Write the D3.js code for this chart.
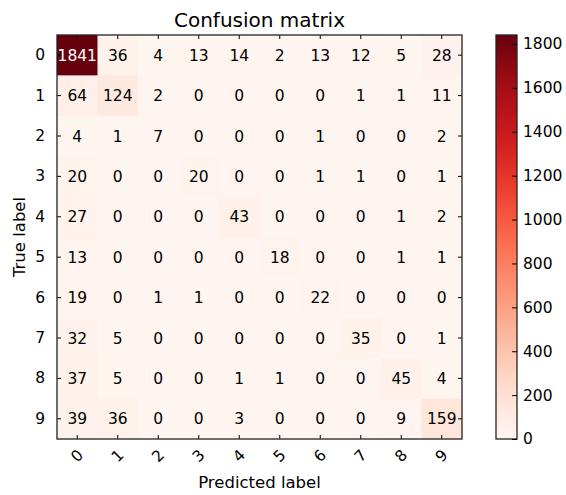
<!DOCTYPE html>
<html>
<head>
<meta charset="utf-8">
<script src="https://cdn.jsdelivr.net/npm/d3@7"></script>
<style>
    body { margin: 0; background: #fff; }
    svg { display: block; font-family: "DejaVu Sans", sans-serif; }
    .axis path { stroke: none; }
    .axis line { stroke: #000; }
</style>
</head>
<body>
<svg id="chart" width="566" height="495"></svg>
<script>
const classes = ['0', '1', '2', '3', '4', '5', '6', '7', '8', '9'];
const row0 = [1841, 36, 4, 13, 14, 2, 13, 12, 5, 28];
const row1 = [64, 124, 2, 0, 0, 0, 0, 1, 1, 11];
const row2 = [4, 1, 7, 0, 0, 0, 1, 0, 0, 2];
const row3 = [20, 0, 0, 20, 0, 0, 1, 1, 0, 1];
const row4 = [27, 0, 0, 0, 43, 0, 0, 0, 1, 2];
const row5 = [13, 0, 0, 0, 0, 18, 0, 0, 1, 1];
const row6 = [19, 0, 1, 1, 0, 0, 22, 0, 0, 0];
const row7 = [32, 5, 0, 0, 0, 0, 0, 35, 0, 1];
const row8 = [37, 5, 0, 0, 1, 1, 0, 0, 45, 4];
const row9 = [39, 36, 0, 0, 3, 0, 0, 0, 9, 159];
const colorbarTicks = [0, 200, 400, 600, 800, 1000, 1200, 1400, 1600, 1800];

const matrix = [row0, row1, row2, row3, row4, row5, row6, row7, row8, row9];

const svg = d3.select('#chart');

const plotLeft = 57, plotTop = 35, plotW = 405, plotH = 404;
const fontFam = '"DejaVu Sans", sans-serif';

const xScale = d3.scaleBand().domain(classes).range([plotLeft, plotLeft + plotW]);
const yScale = d3.scaleBand().domain(classes).range([plotTop, plotTop + plotH]);

const maxVal = d3.max(matrix, r => d3.max(r));
const color = d3.scaleSequential(d3.interpolateReds).domain([0, maxVal]);
const thresh = maxVal / 2;

const cells = [];
matrix.forEach(function (r, i) {
    r.forEach(function (v, j) {
        cells.push({row: classes[i], col: classes[j], value: v});
    });
});

svg.append('g')
    .selectAll('rect')
    .data(cells)
    .enter()
    .append('rect')
    .attr('x', d => xScale(d.col))
    .attr('y', d => yScale(d.row))
    .attr('width', xScale.bandwidth() + 0.5)
    .attr('height', yScale.bandwidth() + 0.5)
    .attr('fill', d => color(d.value));

svg.append('g')
    .selectAll('text')
    .data(cells)
    .enter()
    .append('text')
    .attr('x', d => xScale(d.col) + xScale.bandwidth() / 2)
    .attr('y', d => yScale(d.row) + yScale.bandwidth() / 2)
    .attr('text-anchor', 'middle')
    .attr('dy', '0.36em')
    .style('font-size', '15.5px')
    .attr('fill', d => d.value > thresh ? '#fff' : '#000')
    .text(d => d.value);

function styleAxis(g) {
    g.attr('font-family', fontFam).attr('font-size', 15.5);
    g.selectAll('text').attr('fill', '#000');
}

// ticks on all four sides, pointing inward
svg.append('g')
    .attr('class', 'axis')
    .attr('transform', 'translate(' + plotLeft + ',0)')
    .call(d3.axisLeft(yScale).tickSizeInner(-4).tickSizeOuter(0).tickPadding(12))
    .call(styleAxis);

svg.append('g')
    .attr('class', 'axis')
    .attr('transform', 'translate(' + (plotLeft + plotW) + ',0)')
    .call(d3.axisRight(yScale).tickSizeInner(-4).tickSizeOuter(0).tickFormat(''));

svg.append('g')
    .attr('class', 'axis')
    .attr('transform', 'translate(0,' + plotTop + ')')
    .call(d3.axisTop(xScale).tickSizeInner(-4).tickSizeOuter(0).tickFormat(''));

const xAxis = svg.append('g')
    .attr('class', 'axis')
    .attr('transform', 'translate(0,' + (plotTop + plotH) + ')')
    .call(d3.axisBottom(xScale).tickSizeInner(-4).tickSizeOuter(0).tickPadding(0))
    .call(styleAxis);

xAxis.selectAll('text')
    .attr('y', 0)
    .attr('dy', 0)
    .attr('text-anchor', 'middle')
    .attr('transform', 'translate(0,17) rotate(-45)')
    .attr('dominant-baseline', 'central');

svg.append('rect')
    .attr('x', plotLeft)
    .attr('y', plotTop)
    .attr('width', plotW)
    .attr('height', plotH)
    .attr('fill', 'none')
    .attr('stroke', '#222')
    .attr('stroke-width', 1.3);

// colorbar
const cbX = 496, cbW = 21;
const cbScale = d3.scaleLinear().domain([0, maxVal]).range([plotTop + plotH, plotTop]);

const grad = svg.append('defs').append('linearGradient')
    .attr('id', 'cbgrad')
    .attr('x1', 0).attr('y1', 1).attr('x2', 0).attr('y2', 0);
d3.range(0, 1.0001, 0.05).forEach(function (t) {
    grad.append('stop')
        .attr('offset', t)
        .attr('stop-color', color(t * maxVal));
});

svg.append('rect')
    .attr('x', cbX)
    .attr('y', plotTop)
    .attr('width', cbW)
    .attr('height', plotH)
    .attr('fill', 'url(#cbgrad)')
    .attr('stroke', '#222')
    .attr('stroke-width', 1.3);

svg.append('g')
    .attr('class', 'axis')
    .attr('transform', 'translate(' + (cbX + cbW) + ',0)')
    .call(d3.axisRight(cbScale).tickValues(colorbarTicks).tickFormat(d3.format('d'))
        .tickSizeInner(-5).tickSizeOuter(0).tickPadding(6))
    .call(styleAxis);

svg.append('text')
    .attr('x', plotLeft + plotW / 2)
    .attr('y', 27)
    .attr('text-anchor', 'middle')
    .style('font-size', '20px')
    .text('Confusion matrix');

svg.append('text')
    .attr('x', plotLeft + plotW / 2)
    .attr('y', 488)
    .attr('text-anchor', 'middle')
    .style('font-size', '16.5px')
    .text('Predicted label');

svg.append('text')
    .attr('transform', 'translate(25,' + (plotTop + plotH / 2) + ') rotate(-90)')
    .attr('text-anchor', 'middle')
    .style('font-size', '16.5px')
    .text('True label');
</script>
</body>
</html>
